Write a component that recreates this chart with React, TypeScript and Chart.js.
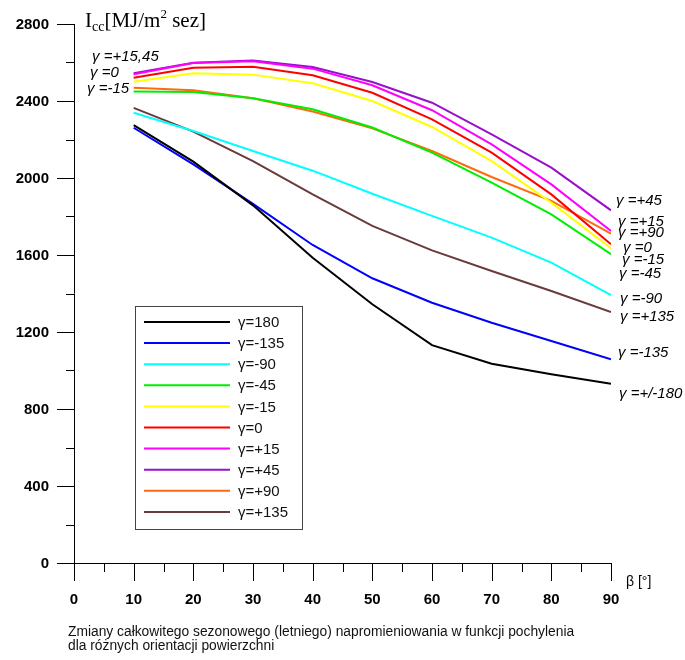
import React, { useEffect, useRef } from "react";
import { Chart, registerables } from "chart.js";

Chart.register(...registerables);

const betaValues = [10, 20, 30, 40, 50, 60, 70, 80, 90];

const g180 = [2275, 2085, 1858, 1586, 1344, 1132, 1035, 980, 931];
const gM135 = [2261, 2071, 1866, 1652, 1479, 1352, 1248, 1153, 1058];
const gM90 = [2339, 2244, 2140, 2038, 1918, 1803, 1690, 1560, 1392];
const gM45 = [2449, 2447, 2414, 2357, 2262, 2132, 1976, 1811, 1604];
const gM15 = [2500, 2544, 2537, 2492, 2400, 2265, 2088, 1872, 1635];
const g0 = [2521, 2573, 2578, 2534, 2443, 2305, 2132, 1915, 1656];
const gP15 = [2539, 2597, 2606, 2568, 2482, 2352, 2175, 1967, 1725];
const gP45 = [2544, 2599, 2611, 2577, 2499, 2391, 2227, 2054, 1832];
const gP90 = [2469, 2456, 2414, 2345, 2258, 2140, 2005, 1881, 1711];
const gP135 = [2364, 2241, 2088, 1915, 1751, 1624, 1517, 1413, 1304];

const seriesNames = ["γ=180", "γ=-135", "γ=-90", "γ=-45", "γ=-15", "γ=0", "γ=+15", "γ=+45", "γ=+90", "γ=+135"];
const seriesValues = [g180, gM135, gM90, gM45, gM15, g0, gP15, gP45, gP90, gP135];
const seriesColors = ["#000000", "#0000ff", "#00ffff", "#00ee00", "#ffff00", "#ff0000", "#ff00ff", "#9910cc", "#ff6a10", "#6b3a3a"];

const xTicks = [0, 10, 20, 30, 40, 50, 60, 70, 80, 90];
const xMinorTicks = [5, 15, 25, 35, 45, 55, 65, 75, 85];
const yTicks = [0, 400, 800, 1200, 1600, 2000, 2400, 2800];
const yMinorTicks = [200, 600, 1000, 1400, 1800, 2200, 2600];

const leftLabels = [
  { text: "γ =+15,45", x: 92, y: 61 },
  { text: "γ =0", x: 90, y: 77 },
  { text: "γ =-15", x: 87, y: 93 },
];
const rightLabels = [
  { text: "γ =+45", x: 616, y: 205 },
  { text: "γ =+15", x: 618, y: 226 },
  { text: "γ =+90", x: 618, y: 237 },
  { text: "γ =0", x: 623, y: 252 },
  { text: "γ =-15", x: 622, y: 264 },
  { text: "γ =-45", x: 619, y: 278 },
  { text: "γ =-90", x: 620, y: 303 },
  { text: "γ =+135", x: 620, y: 321 },
  { text: "γ =-135", x: 618, y: 357 },
  { text: "γ =+/-180", x: 619, y: 398 },
];

const captionLines = [
  "Zmiany całkowitego sezonowego (letniego) napromieniowania w funkcji pochylenia",
  "dla różnych orientacji powierzchni",
];

const SANS = "Arial, 'Liberation Sans', sans-serif";
const SERIF = "'Times New Roman', 'Liberation Serif', serif";

const decorPlugin = {
  id: "decor",
  afterDraw(chart: any) {
    const ctx = chart.ctx as CanvasRenderingContext2D;
    const xs = chart.scales.x;
    const ys = chart.scales.y;
    const x0 = xs.getPixelForValue(0);
    const x90 = xs.getPixelForValue(90);
    const y0 = ys.getPixelForValue(0);
    const yTop = ys.getPixelForValue(2800);
    ctx.save();
    ctx.strokeStyle = "#000";
    ctx.lineWidth = 1;
    const px = (v: number) => Math.round(v) + 0.5;
    ctx.beginPath();
    ctx.moveTo(px(x0), yTop);
    ctx.lineTo(px(x0), y0);
    ctx.moveTo(x0 - 17, px(y0));
    ctx.lineTo(x90, px(y0));
    yTicks.forEach((v) => {
      const y = px(ys.getPixelForValue(v));
      ctx.moveTo(x0 - 17, y);
      ctx.lineTo(x0, y);
    });
    yMinorTicks.forEach((v) => {
      const y = px(ys.getPixelForValue(v));
      ctx.moveTo(x0 - 8, y);
      ctx.lineTo(x0, y);
    });
    xTicks.forEach((v) => {
      const x = px(xs.getPixelForValue(v));
      ctx.moveTo(x, y0);
      ctx.lineTo(x, y0 + 18);
    });
    xMinorTicks.forEach((v) => {
      const x = px(xs.getPixelForValue(v));
      ctx.moveTo(x, y0);
      ctx.lineTo(x, y0 + 9);
    });
    ctx.stroke();

    ctx.fillStyle = "#000";
    ctx.font = `bold 15px ${SANS}`;
    ctx.textAlign = "right";
    ctx.textBaseline = "middle";
    yTicks.forEach((v) => {
      ctx.fillText(String(v), 49, ys.getPixelForValue(v) + 1);
    });
    ctx.textAlign = "center";
    ctx.textBaseline = "alphabetic";
    xTicks.forEach((v) => {
      ctx.fillText(String(v), xs.getPixelForValue(v), 604);
    });

    ctx.font = `14px ${SANS}`;
    ctx.textAlign = "left";
    ctx.fillText("β [°]", 626, 586);

    let tx = 85;
    const base = 27;
    ctx.font = `21px ${SERIF}`;
    ctx.fillText("I", tx, base);
    tx += ctx.measureText("I").width;
    ctx.font = `14px ${SERIF}`;
    ctx.fillText("cc", tx, base + 4);
    tx += ctx.measureText("cc").width;
    ctx.font = `21px ${SERIF}`;
    ctx.fillText("[MJ/m", tx, base);
    tx += ctx.measureText("[MJ/m").width;
    ctx.font = `13px ${SERIF}`;
    ctx.fillText("2", tx, base - 9);
    tx += ctx.measureText("2").width;
    ctx.font = `21px ${SERIF}`;
    ctx.fillText(" sez]", tx, base);

    ctx.font = `italic 15px ${SANS}`;
    leftLabels.forEach((l) => ctx.fillText(l.text, l.x, l.y));
    rightLabels.forEach((l) => ctx.fillText(l.text, l.x, l.y));

    const lx = 135.5, ly = 306.5, lw = 167, lh = 223;
    ctx.fillStyle = "#fff";
    ctx.fillRect(lx, ly, lw, lh);
    ctx.strokeStyle = "#444";
    ctx.lineWidth = 1;
    ctx.strokeRect(lx, ly, lw, lh);
    ctx.font = `15px ${SANS}`;
    ctx.textBaseline = "middle";
    seriesNames.forEach((name, i) => {
      const y = 322 + i * 21.1;
      ctx.strokeStyle = seriesColors[i];
      ctx.lineWidth = 2;
      ctx.beginPath();
      ctx.moveTo(144, y);
      ctx.lineTo(230, y);
      ctx.stroke();
      ctx.fillStyle = "#111";
      ctx.fillText(name, 238, y + 1);
    });

    ctx.textBaseline = "alphabetic";
    ctx.fillStyle = "#111";
    ctx.font = `13.8px ${SANS}`;
    captionLines.forEach((line, i) => {
      ctx.fillText(line, 68, 636 + i * 14);
    });
    ctx.restore();
  },
};

export default function App() {
  const ref = useRef<HTMLCanvasElement | null>(null);
  useEffect(() => {
    document.body.style.margin = "0";
    const canvas = ref.current;
    if (!canvas) return;
    const datasets = seriesNames.map((name, i) => ({
      label: name,
      data: betaValues.map((b, j) => ({ x: b, y: seriesValues[i][j] })),
      borderColor: seriesColors[i],
      backgroundColor: seriesColors[i],
      borderWidth: 2,
      pointRadius: 0,
      tension: 0,
      fill: false,
    }));
    const chart = new Chart(canvas, {
      type: "line",
      data: { datasets },
      options: {
        animation: false,
        responsive: false,
        devicePixelRatio: 1,
        layout: { padding: { left: 74, right: 74, top: 24, bottom: 97 } },
        scales: {
          x: { type: "linear", min: 0, max: 90, display: false },
          y: { type: "linear", min: 0, max: 2800, display: false },
        },
        plugins: { legend: { display: false }, tooltip: { enabled: false } },
      },
      plugins: [decorPlugin],
    });
    return () => chart.destroy();
  }, []);
  return (
    <div style={{ width: 685, height: 660 }}>
      <canvas ref={ref} width={685} height={660} style={{ width: 685, height: 660, display: "block" }} />
    </div>
  );
}
